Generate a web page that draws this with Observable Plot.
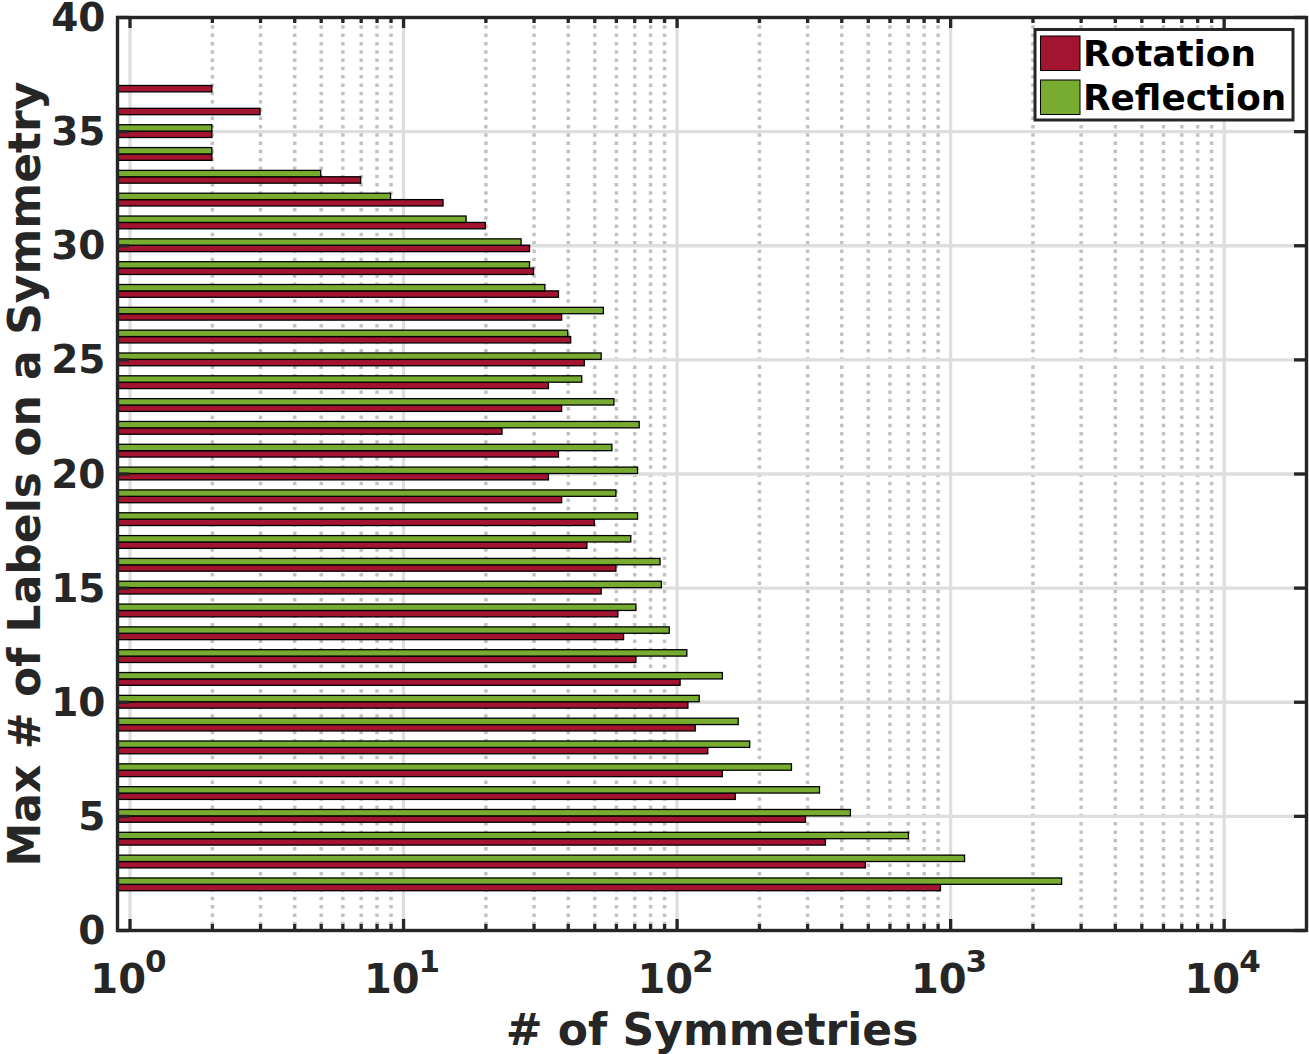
<!DOCTYPE html>
<html>
<head>
<meta charset="utf-8">
<script src="https://cdn.jsdelivr.net/npm/d3@7"></script>
<script src="https://cdn.jsdelivr.net/npm/@observablehq/plot@0.6"></script>
<style>
  html, body { margin: 0; padding: 0; background: #fff; }
  #chart { width: 1309px; height: 1054px; }
</style>
</head>
<body>
<div id="chart"></div>
<script>
// ---- Data ----
const rows = [2, 3, 4, 5, 6, 7, 8, 9, 10, 11, 12, 13, 14, 15, 16, 17, 18, 19,
              20, 21, 22, 23, 24, 25, 26, 27, 28, 29, 30, 31, 32, 33, 34, 35, 36, 37];
const rotation = [922, 490, 350, 296, 164, 147, 130, 117, 110, 103, 71, 64, 61, 53, 60, 47, 50, 38,
                  34, 37, 23, 38, 34, 46, 41, 38, 37, 30, 29, 20, 14, 7, 2, 2, 3, 2];
const reflection = [2556, 1129, 704, 432, 333, 263, 185, 168, 121, 147, 109, 94, 71, 88, 87, 68, 72, 60,
                    72, 58, 73, 59, 45, 53, 40, 54, 33, 29, 27, 17, 9, 5, 2, 2, null, null];
const seriesNames = ["Rotation", "Reflection"];
const seriesColors = ["#A2142F", "#77AC30"];
const xTickValues = [1, 10, 100, 1000, 10000];
const xTickBase = ["10", "10", "10", "10", "10"];
const xTickExponents = ["0", "1", "2", "3", "4"];
const yTickValues = [0, 5, 10, 15, 20, 25, 30, 35, 40];
const xDomain = [0.9, 20000];
const yDomain = [0, 40];
const xLabel = "# of Symmetries";
const yLabel = "Max # of Labels on a Symmetry";

// ---- Layout / style ----
const W = 1309, H = 1054;
const mL = 117, mR = 3, mT = 17, mB = 124;
const frameW = W - mL - mR, frameH = H - mT - mB;
const ink = "#262626";
const font = "DejaVu Sans";
const barH = 0.28;

const rotData = rows.map((r, i) => ({row: r, value: rotation[i]})).filter(d => d.value != null);
const refData = rows.map((r, i) => ({row: r, value: reflection[i]})).filter(d => d.value != null);

const minorX = d3.scaleLog().domain(xDomain).ticks()
  .filter(v => v > xDomain[0] && v < xDomain[1] && !xTickValues.includes(v));
const innerY = yTickValues.filter(v => v > yDomain[0] && v < yDomain[1]);

const chart = Plot.plot({
  width: W,
  height: H,
  marginLeft: mL, marginRight: mR, marginTop: mT, marginBottom: mB,
  x: {type: "log", domain: xDomain, axis: null},
  y: {domain: yDomain, axis: null},
  style: {fontFamily: font, fontWeight: "bold", background: "#fff", color: ink, overflow: "visible"},
  marks: [
    // grid
    Plot.ruleX(minorX, {stroke: "#c2c2c2", strokeWidth: 3.5, strokeDasharray: "3.5,4.8"}),
    Plot.ruleX(xTickValues, {stroke: "#dedede", strokeWidth: 3.3}),
    Plot.ruleY(innerY, {stroke: "#dedede", strokeWidth: 3.3}),
    // bars
    Plot.rect(rotData, {x1: xDomain[0], x2: "value", y1: d => d.row - barH, y2: "row",
      fill: seriesColors[0], stroke: "#000", strokeWidth: 1.3}),
    Plot.rect(refData, {x1: xDomain[0], x2: "value", y1: "row", y2: d => d.row + barH,
      fill: seriesColors[1], stroke: "#000", strokeWidth: 1.3}),
    // ticks (inward)
    Plot.ruleX(xTickValues, {stroke: ink, strokeWidth: 3.3, insetTop: frameH - 11}),
    Plot.ruleX(minorX, {stroke: ink, strokeWidth: 3.3, insetTop: frameH - 6}),
    Plot.ruleX(xTickValues, {stroke: ink, strokeWidth: 3.3, insetBottom: frameH - 11}),
    Plot.ruleX(minorX, {stroke: ink, strokeWidth: 3.3, insetBottom: frameH - 6}),
    Plot.ruleY(yTickValues, {stroke: ink, strokeWidth: 3.3, insetRight: frameW - 12}),
    Plot.ruleY(yTickValues, {stroke: ink, strokeWidth: 3.3, insetLeft: frameW - 12}),
    Plot.frame({stroke: ink, strokeWidth: 3.4}),
    // tick labels
    Plot.text(xTickValues, {x: d => d, text: (d, i) => xTickBase[i], frameAnchor: "bottom",
      lineAnchor: "bottom", textAnchor: "end", dx: 16, dy: 62, fontSize: 40, fontWeight: "bold", fill: ink}),
    Plot.text(xTickValues, {x: d => d, text: (d, i) => xTickExponents[i], frameAnchor: "bottom",
      lineAnchor: "bottom", textAnchor: "start", dx: 15, dy: 41.5, fontSize: 31, fontWeight: "bold", fill: ink}),
    Plot.text(yTickValues, {y: d => d, text: d => String(d), frameAnchor: "left",
      lineAnchor: "bottom", textAnchor: "end", dx: -12, dy: 13.5, fontSize: 39, fontWeight: "bold", fill: ink}),
    // axis titles
    Plot.text([xLabel], {text: d => d, frameAnchor: "bottom", lineAnchor: "bottom", textAnchor: "middle",
      dy: 114, fontSize: 44, fontWeight: "bold", fill: ink}),
    Plot.text([yLabel], {text: d => d, frameAnchor: "left", lineAnchor: "bottom", textAnchor: "middle",
      rotate: -90, dx: -78, fontSize: 44, fontWeight: "bold", fill: ink})
  ]
});

// ---- Legend (inside the plot, top-right) ----
const svg = d3.select(chart);
const lg = svg.append("g").attr("font-family", font).attr("font-weight", "bold")
  .attr("text-anchor", "start");
lg.append("rect").attr("x", 1035).attr("y", 29.5).attr("width", 258).attr("height", 90.5)
  .attr("fill", "#fff").attr("stroke", ink).attr("stroke-width", 3);
seriesNames.forEach((name, i) => {
  const y0 = 36 + i * 44;
  lg.append("rect").attr("x", 1040.5).attr("y", y0).attr("width", 39.5).attr("height", 34.5)
    .attr("fill", seriesColors[i]).attr("stroke", "#000").attr("stroke-width", 1);
  lg.append("text").attr("x", 1083).attr("y", y0 + 29.5).attr("font-size", 35.8)
    .attr("text-anchor", "start").attr("fill", "#000").text(name);
});

document.getElementById("chart").appendChild(chart);
</script>
</body>
</html>
